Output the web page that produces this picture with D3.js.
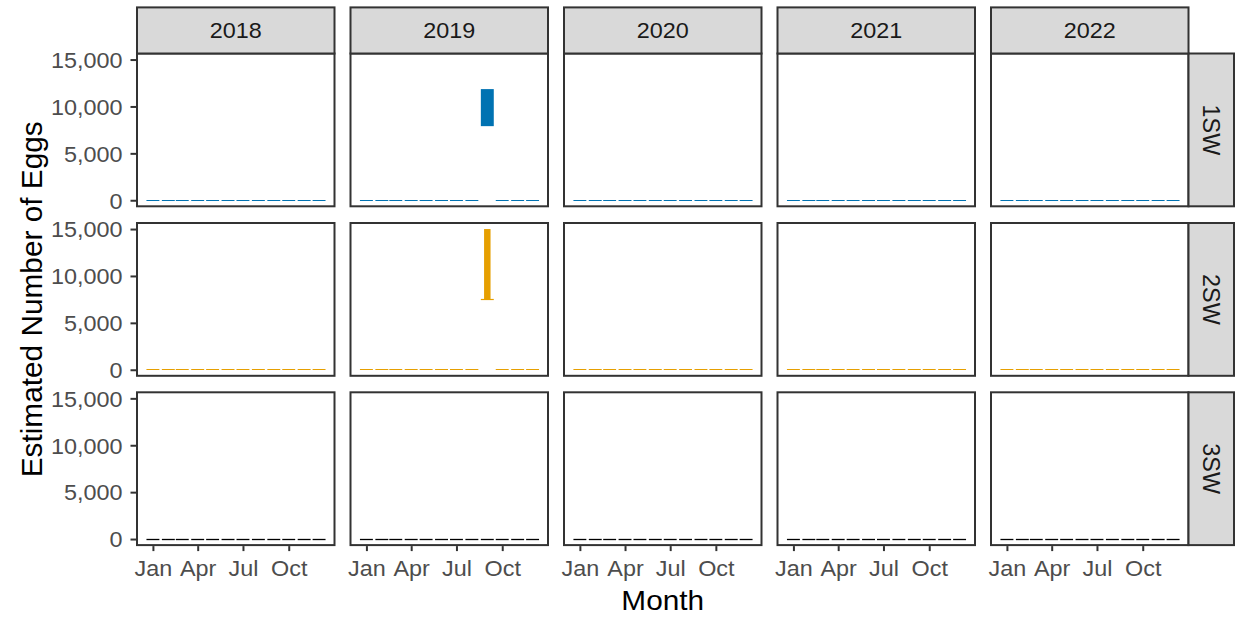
<!DOCTYPE html>
<html><head><meta charset="utf-8">
<script src="https://cdn.jsdelivr.net/npm/d3@7/dist/d3.min.js"></script>
<style>body{margin:0;background:#fff}svg text{font-family:"Liberation Sans",Arial,Helvetica,sans-serif}</style>
</head><body><svg id="chart" width="1238" height="619"></svg>
<script>
// ---------------- data ----------------
const years = [2018, 2019, 2020, 2021, 2022];
const ageClasses = ["1SW", "2SW", "3SW"];
const tickMonths = [0, 3, 6, 9];               // Jan, Apr, Jul, Oct
const yTicks = [0, 5000, 10000, 15000];
const xTitle = "Month";
const yTitle = "Estimated Number of Eggs";

// monthly estimates (Jan..Dec); null = month shown as an interval below
const eggs1SW = {
  2018: [0,0,0,0,0,0,0,0,0,0,0,0],
  2019: [0,0,0,0,0,0,0,0,null,0,0,0],
  2020: [0,0,0,0,0,0,0,0,0,0,0,0],
  2021: [0,0,0,0,0,0,0,0,0,0,0,0],
  2022: [0,0,0,0,0,0,0,0,0,0,0,0]
};
const eggs2SW = {
  2018: [0,0,0,0,0,0,0,0,0,0,0,0],
  2019: [0,0,0,0,0,0,0,0,null,0,0,0],
  2020: [0,0,0,0,0,0,0,0,0,0,0,0],
  2021: [0,0,0,0,0,0,0,0,0,0,0,0],
  2022: [0,0,0,0,0,0,0,0,0,0,0,0]
};
const eggs3SW = {
  2018: [0,0,0,0,0,0,0,0,0,0,0,0],
  2019: [0,0,0,0,0,0,0,0,0,0,0,0],
  2020: [0,0,0,0,0,0,0,0,0,0,0,0],
  2021: [0,0,0,0,0,0,0,0,0,0,0,0],
  2022: [0,0,0,0,0,0,0,0,0,0,0,0]
};
const eggsByAge = [eggs1SW, eggs2SW, eggs3SW];

// interval estimates
const intervalAge   = ["1SW", "2SW"];
const intervalYear  = [2019, 2019];
const intervalMonth = [8, 8];          // 0-based: September
const intervalLower = [7900, 7450];
const intervalUpper = [11850, 15000];

// ---------------- layout ----------------
const colors = ["#0072B2", "#E69F00", "#000000"];
const dashWidths = [1, 1, 1.3];
const svg = d3.select("#chart");
const panelW = 197.5, colStep = 213.5, left0 = 137;
const panelH = 152.8, rowTops = [53.5, 223, 392.3];
const stripTop = 7.4, stripRightX = 1188.5, stripRightW = 45.5;
const DAY = 864e5;
const tickFont = 23.4, titleFont = 29.8, squash = 0.92;
const halfW = 13 * DAY;
const snap = v => Math.round(v - 0.5) + 0.5;

const xScales = years.map((yr, i) => d3.scaleUtc()
  .domain([new Date(Date.UTC(yr, 0, 1) - 32 * DAY), new Date(Date.UTC(yr, 11, 1) + 31 * DAY)])
  .range([left0 + i * colStep, left0 + i * colStep + panelW]));
const yScales = rowTops.map(t => d3.scaleLinear().domain([-645, 15645]).range([t + panelH, t]));

// panels
ageClasses.forEach((age, r) => {
  const y = yScales[r];
  years.forEach((yr, c) => {
    const x = xScales[c];
    const g = svg.append("g");
    g.append("rect").attr("x", x.range()[0]).attr("y", rowTops[r])
      .attr("width", panelW).attr("height", panelH).attr("fill", "#fff");
    const vals = eggsByAge[r][yr];
    vals.forEach((v, m) => {
      if (v === null) return;
      const d = new Date(Date.UTC(yr, m, 1));
      g.append("line")
        .attr("x1", x(new Date(+d - halfW))).attr("x2", x(new Date(+d + halfW)))
        .attr("y1", snap(y(v))).attr("y2", snap(y(v)))
        .attr("stroke", colors[r]).attr("stroke-width", dashWidths[r]);
    });
    intervalAge.forEach((a, k) => {
      if (a !== age || intervalYear[k] !== yr) return;
      const d = new Date(Date.UTC(yr, intervalMonth[k], 1));
      const x0 = x(new Date(+d - halfW)), x1 = x(new Date(+d + halfW));
      if (r === 0) {
        g.append("rect").attr("x", x0).attr("width", x1 - x0)
          .attr("y", y(intervalUpper[k])).attr("height", y(intervalLower[k]) - y(intervalUpper[k]))
          .attr("fill", colors[r]);
      } else {
        const q = (x1 - x0) / 4;
        g.append("rect").attr("x", x0 + q).attr("width", (x1 - x0) / 2)
          .attr("y", y(intervalUpper[k])).attr("height", y(intervalLower[k]) - y(intervalUpper[k]))
          .attr("fill", colors[r]);
        g.append("line").attr("x1", x0).attr("x2", x1)
          .attr("y1", snap(y(intervalLower[k]))).attr("y2", snap(y(intervalLower[k])))
          .attr("stroke", colors[r]).attr("stroke-width", 1.2);
      }
    });
    g.append("rect").attr("x", x.range()[0]).attr("y", rowTops[r])
      .attr("width", panelW).attr("height", panelH)
      .attr("fill", "none").attr("stroke", "#333333").attr("stroke-width", 2);

    // x axis on bottom row
    if (r === ageClasses.length - 1) {
      const ax = svg.append("g").attr("transform", `translate(0,${rowTops[r] + panelH + 1})`)
        .call(d3.axisBottom(x).tickValues(tickMonths.map(m => new Date(Date.UTC(yr, m, 1))))
          .tickFormat(d3.utcFormat("%b")).tickSize(5));
      ax.select(".domain").remove();
      ax.selectAll(".tick line").attr("stroke", "#333333").attr("stroke-width", 2);
      ax.selectAll(".tick text").attr("fill", "#4D4D4D").attr("font-size", tickFont)
        .attr("y", 29.5 / squash).attr("dy", 0).attr("transform", `scale(1,${squash})`);
    }
  });
  // y axis
  const ay = svg.append("g").attr("transform", `translate(${left0 - 1},0)`)
    .call(d3.axisLeft(y).tickValues(yTicks).tickFormat(d3.format(",")).tickSize(5.5));
  ay.select(".domain").remove();
  ay.selectAll(".tick line").attr("stroke", "#333333").attr("stroke-width", 2);
  ay.selectAll(".tick text").attr("fill", "#4D4D4D").attr("font-size", tickFont)
    .attr("x", -13.5).attr("dy", "0.36em").attr("transform", `scale(1,${squash})`);

  // right strip
  svg.append("rect").attr("x", stripRightX).attr("y", rowTops[r])
    .attr("width", stripRightW).attr("height", panelH)
    .attr("fill", "#D9D9D9").attr("stroke", "#333333").attr("stroke-width", 2);
  svg.append("text").attr("transform", `translate(${stripRightX + stripRightW / 2},${rowTops[r] + panelH / 2}) rotate(90)`)
    .attr("text-anchor", "middle").attr("dy", "0.36em").attr("font-size", tickFont)
    .attr("fill", "#1A1A1A").text(age);
});

// top strips
years.forEach((yr, c) => {
  const x0 = xScales[c].range()[0];
  svg.append("rect").attr("x", x0).attr("y", stripTop).attr("width", panelW)
    .attr("height", rowTops[0] - stripTop)
    .attr("fill", "#D9D9D9").attr("stroke", "#333333").attr("stroke-width", 2);
  svg.append("text")
    .attr("transform", `translate(${x0 + panelW / 2},${(stripTop + rowTops[0]) / 2 + 7.6}) scale(1,${squash})`)
    .attr("text-anchor", "middle").attr("font-size", tickFont).attr("fill", "#1A1A1A").text(yr);
});

// titles
const midX = (left0 + xScales[4].range()[1]) / 2;
svg.append("text").attr("transform", `translate(${midX},609.5) scale(1,${squash})`)
  .attr("text-anchor", "middle").attr("font-size", titleFont).attr("fill", "#000").text(xTitle);
svg.append("text").attr("transform", `translate(31.5,${(rowTops[0] + rowTops[2] + panelH) / 2}) rotate(-90)`)
  .attr("text-anchor", "middle").attr("dy", "0.36em").attr("font-size", titleFont).attr("fill", "#000").text(yTitle);
</script></body></html>
